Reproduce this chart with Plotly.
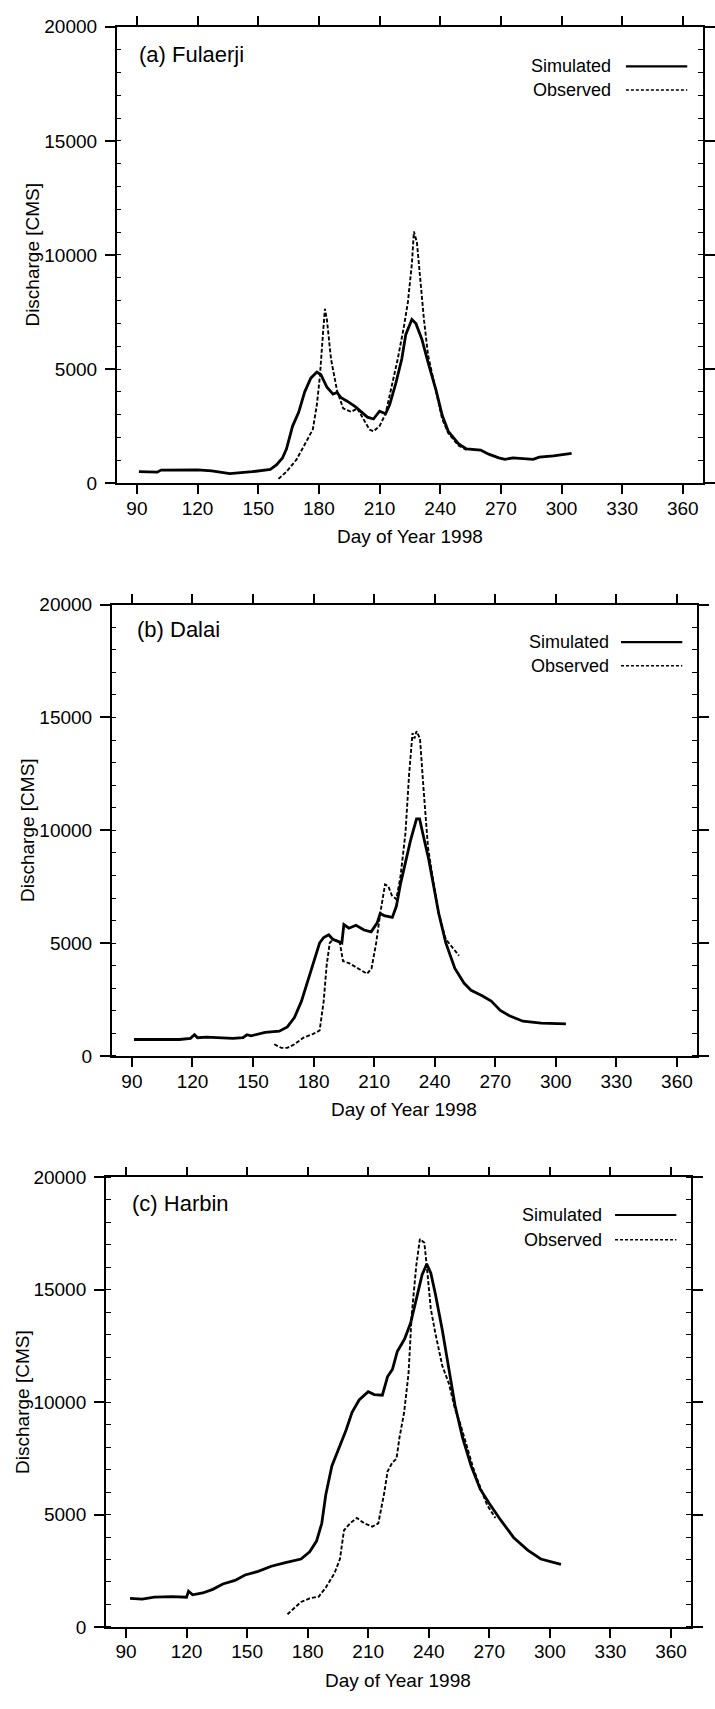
import plotly.graph_objects as go

W, H = 715, 1709

# ---------------- data ----------------
x_ticks = [90, 120, 150, 180, 210, 240, 270, 300, 330, 360]
y_ticks = [0, 5000, 10000, 15000, 20000]
y_tick_labels = ["0", "5000", "10000", "15000", "20000"]
panel_titles = ["(a) Fulaerji", "(b) Dalai", "(c) Harbin"]
x_title = "Day of Year 1998"
y_title = "Discharge [CMS]"
series_names = ["Simulated", "Observed"]

sim_a_day = [91, 100, 102, 120, 127, 136, 147, 156, 159, 162, 164, 167, 170, 173, 176, 179, 181, 184,
             187, 189, 191, 194, 198, 201, 204, 207, 210, 213, 215, 218, 221, 223, 226, 228, 231, 234,
             238, 241, 244, 249, 253, 260, 264, 269, 272, 276, 281, 286, 289, 296, 305]
sim_a_q = [500, 480, 570, 580, 540, 420, 500, 600, 800, 1100, 1500, 2500, 3100, 4000, 4600, 4870, 4750,
           4200, 3900, 3970, 3740, 3590, 3350, 3120, 2890, 2810, 3150, 3040, 3430, 4360, 5440, 6520, 7170,
           6990, 6290, 5290, 4050, 2970, 2270, 1730, 1500, 1450, 1270, 1110, 1040, 1110, 1080, 1040, 1140,
           1190, 1300]
obs_a_day = [160, 164, 169, 173, 177, 179, 180.5, 182, 183, 184, 186, 189, 192, 196, 199, 202, 205, 207,
             210, 213, 215.5, 219, 222, 224, 226, 227, 228.5, 230, 232, 234, 238, 241, 244, 249, 253]
obs_a_q = [185, 500, 1040, 1730, 2350, 3430, 4670, 6520, 7640, 7140, 5440, 4050, 3280, 3120, 3280, 2810,
           2350, 2270, 2500, 3040, 4050, 5440, 6830, 7910, 9610, 11030, 10540, 9000, 7140, 5600, 4050, 2810,
           2190, 1650, 1450]

sim_b_day = [91, 113.5, 119, 121, 122.5, 127, 140, 145, 147, 149, 156, 163, 167, 170.5, 174, 177.5, 181,
             183, 185, 187.5, 189.5, 192, 194, 195, 197.5, 201, 205, 208.5, 211.5, 213, 215, 219, 221, 223,
             225.5, 228, 231, 232.5, 234.5, 237, 239, 242, 245.5, 250, 254.5, 258, 263.5, 268, 272.5, 277,
             283.7, 288, 292.7, 305]
sim_b_q = [730, 730, 780, 940, 810, 840, 780, 810, 940, 890, 1050, 1100, 1290, 1700, 2430, 3400, 4370,
           5010, 5250, 5370, 5170, 5090, 5010, 5820, 5660, 5790, 5580, 5500, 5900, 6310, 6220, 6140, 6630,
           7600, 8570, 9540, 10510, 10510, 9700, 8730, 7760, 6310, 5010, 3880, 3230, 2910, 2670, 2430, 2020,
           1780, 1540, 1490, 1460, 1420]
obs_b_day = [160.5, 164, 167, 170.5, 175, 179.6, 183, 185, 186.5, 188, 189.7, 192, 193, 194.6, 197.5, 202,
             206.5, 208.7, 211, 213, 215.4, 217, 218.8, 221, 223, 225.5, 227.3, 229, 230, 231, 232.7, 234.5,
             236.7, 239, 242, 245.5, 249, 252]
obs_b_q = [520, 360, 360, 520, 810, 970, 1130, 2430, 4040, 5010, 5170, 5090, 5010, 4200, 4120, 3880, 3640,
           3880, 5010, 6310, 7600, 7520, 7110, 6950, 7920, 9860, 12450, 14310, 14070, 14390, 14070, 11800,
           9220, 7920, 6310, 5170, 4770, 4450]

sim_c_day = [92, 98, 104, 113, 120, 121, 123, 128, 133, 138, 144, 149, 155.5, 162, 169, 176.7, 181, 184.4,
             187, 189, 192, 195.5, 199, 202, 205.5, 210, 213, 217, 219.6, 222, 224.4, 228, 231, 234.4,
             236.7, 239, 241, 243.3, 246.7, 250, 253, 256.7, 261, 265.5, 270, 275.5, 282, 289, 295.5, 305.5]
sim_c_q = [1270, 1240, 1320, 1350, 1320, 1590, 1430, 1510, 1670, 1910, 2070, 2310, 2470, 2700, 2860, 3020,
           3340, 3820, 4610, 5890, 7160, 7960, 8750, 9550, 10100, 10470, 10340, 10310, 11140, 11460, 12250,
           12810, 13520, 14800, 15670, 16150, 15750, 14800, 13210, 11460, 9860, 8430, 7160, 6130, 5490, 4770,
           3980, 3420, 3020, 2780]
obs_c_day = [170, 173, 176.7, 181, 185.5, 189, 193.3, 196, 198, 201, 204.4, 208, 212, 215, 217.8, 219.6,
             222, 224, 225.5, 227.8, 230, 231.5, 233.8, 235.6, 237.8, 239, 241, 243.3, 246.7, 250, 253,
             255.5, 259, 262, 265.5, 269, 273]
obs_c_q = [560, 800, 1110, 1270, 1350, 1750, 2390, 3020, 4300, 4610, 4850, 4610, 4460, 4610, 5890, 6920,
           7320, 7480, 8430, 9550, 11300, 13840, 16070, 17260, 17100, 16070, 14160, 13050, 11620, 10820,
           9700, 9070, 7960, 7080, 6210, 5410, 4850]

# ---------------- layout geometry (pixels) ----------------
# per panel: left, right, top, bottom of frame
frames = [(118, 711, 17, 479), (113, 705, 602, 1059), (107, 699, 1182, 1637)]
label_pos = [(139, 45), (137, 627), (131, 1208)]
legend_pos = [(620, 633, 695, 57, 81), (618, 628, 690, 640, 664), (611, 622, 684, 1220, 1245)]
xtitle_y = [533, 1113, 1691]
ytitle_x = [33, 28, 22]

FAM = "Liberation Sans, Arial, Helvetica, sans-serif"
TICK_FONT = dict(family=FAM, size=19, color="black")
TITLE_FONT = dict(family=FAM, size=19, color="black")
LABEL_FONT = dict(family=FAM, size=22, color="black")
LEG_FONT = dict(family=FAM, size=18, color="black")


def px_x(v):
    return v / W


def px_y(v):
    return 1 - v / H


panel_data = [
    (sim_a_day, sim_a_q, obs_a_day, obs_a_q),
    (sim_b_day, sim_b_q, obs_b_day, obs_b_q),
    (sim_c_day, sim_c_q, obs_c_day, obs_c_q),
]

fig = go.Figure()
layout = dict(
    width=W, height=H, margin=dict(l=0, r=0, t=0, b=0),
    paper_bgcolor="white", plot_bgcolor="white", showlegend=False,
)
annotations = []
shapes = []

for i, (sd, sq, od, oq) in enumerate(panel_data):
    n = "" if i == 0 else str(i + 1)
    xa, ya = "x" + n, "y" + n
    fig.add_trace(go.Scatter(x=sd, y=sq, mode="lines", name=series_names[0], xaxis=xa, yaxis=ya,
                             line=dict(color="black", width=2.8)))
    fig.add_trace(go.Scatter(x=od, y=oq, mode="lines", name=series_names[1], xaxis=xa, yaxis=ya,
                             line=dict(color="black", width=1.9, dash="4px,2px")))
    l, r, t, b = frames[i]
    layout["xaxis" + n] = dict(
        domain=[px_x(l), px_x(r)], anchor=ya, range=[80, 370],
        tickmode="array", tickvals=x_ticks, ticktext=[str(v) for v in x_ticks],
        ticks="outside", ticklen=9, tickwidth=1.5, tickcolor="black",
        showline=True, linewidth=1.5, linecolor="black", mirror="ticks",
        showgrid=False, zeroline=False, tickfont=TICK_FONT, ticklabelstandoff=-2,
    )
    layout["yaxis" + n] = dict(
        domain=[px_y(b), px_y(t)], anchor=xa, range=[0, 20000],
        tickmode="array", tickvals=y_ticks, ticktext=y_tick_labels,
        ticks="outside", ticklen=10, tickwidth=1.5, tickcolor="black",
        minor=dict(dtick=1000, ticks="inside", ticklen=5, tickwidth=1, tickcolor="black"),
        showline=True, linewidth=1.5, linecolor="black", mirror="ticks",
        showgrid=False, zeroline=False, tickfont=TICK_FONT, ticklabelstandoff=4,
    )
    # panel label
    lx, ly = label_pos[i]
    annotations.append(dict(text=panel_titles[i], x=px_x(lx), y=px_y(ly), xref="paper", yref="paper",
                            xanchor="left", yanchor="middle", showarrow=False, font=LABEL_FONT))
    # axis titles
    annotations.append(dict(text=x_title, x=px_x((l + r) / 2), y=px_y(xtitle_y[i]), xref="paper", yref="paper",
                            xanchor="center", yanchor="middle", showarrow=False, font=TITLE_FONT))
    annotations.append(dict(text=y_title, x=px_x(ytitle_x[i]), y=px_y((t + b) / 2), xref="paper", yref="paper",
                            xanchor="center", yanchor="middle", showarrow=False, font=TITLE_FONT, textangle=-90))
    # legend
    tx, x0, x1, y_s, y_o = legend_pos[i]
    for name, yy, style in ((series_names[0], y_s, dict(width=2.2)), (series_names[1], y_o, dict(width=1.5, dash="3px,2px"))):
        annotations.append(dict(text=name, x=px_x(tx), y=px_y(yy), xref="paper", yref="paper",
                                xanchor="right", yanchor="middle", showarrow=False, font=LEG_FONT))
        shapes.append(dict(type="line", xref="paper", yref="paper", x0=px_x(x0), x1=px_x(x1),
                           y0=px_y(yy), y1=px_y(yy), line=dict(color="black", **style)))

layout["annotations"] = annotations
layout["shapes"] = shapes
fig.update_layout(**layout)
fig.write_html("out.html")
